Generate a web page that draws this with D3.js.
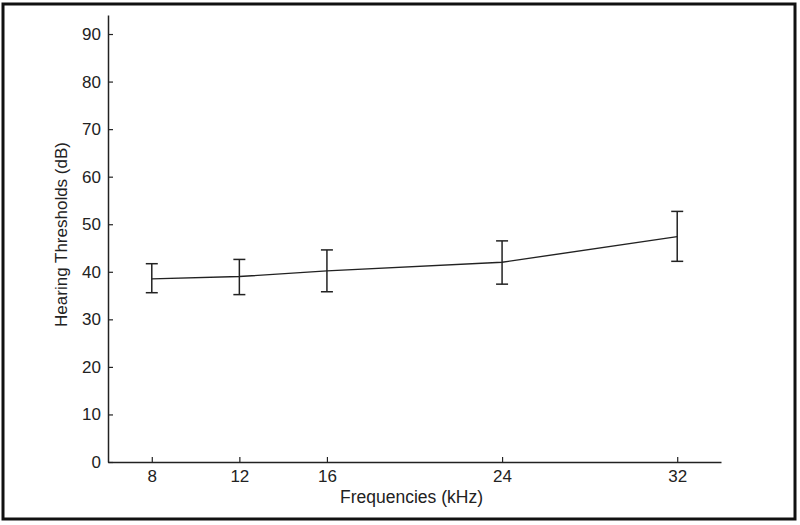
<!DOCTYPE html>
<html><head><meta charset="utf-8">
<script src="https://cdn.jsdelivr.net/npm/d3@7"></script>
<style>body{margin:0;background:#fff}svg{display:block}</style>
</head><body>
<script>
const freqs = [8, 12, 16, 24, 32];
const means = [38.5, 39.0, 40.2, 42.0, 47.4];
const upper = [41.7, 42.6, 44.6, 46.5, 52.7];
const lower = [35.6, 35.2, 35.8, 37.4, 42.2];
const yTicks = [0,10,20,30,40,50,60,70,80,90];
const xTicks = [8,12,16,24,32];

const W=800,H=525;
const svg=d3.select("body").append("svg").attr("width",W).attr("height",H);
svg.append("rect").attr("x",3).attr("y",4).attr("width",792).attr("height",515)
  .attr("fill","none").attr("stroke","#111").attr("stroke-width",3);

const x=d3.scaleLinear().domain([6,34]).range([108,721]);
const y=d3.scaleLinear().domain([0,94]).range([462,15]);
const font="'Liberation Sans', Arial, sans-serif";
const col="#222";

const gx=svg.append("g").attr("transform","translate(0,462)")
  .call(d3.axisBottom(x).tickValues(xTicks).tickSize(-5).tickPadding(8).tickSizeOuter(0));
const gy=svg.append("g").attr("transform","translate(108,0)")
  .call(d3.axisLeft(y).tickValues(yTicks).tickSize(-5).tickPadding(7).tickSizeOuter(0));
[gx,gy].forEach(g=>{
  g.select(".domain").attr("stroke",col).attr("stroke-width",1.5);
  g.selectAll(".tick line").attr("stroke",col).attr("stroke-width",1.2);
  g.selectAll("text").attr("font-family",font).attr("font-size",17).attr("fill","#222");
});

const line=d3.line().x((d,i)=>x(freqs[i])).y(d=>y(d));
svg.append("path").datum(means).attr("d",line).attr("fill","none")
  .attr("stroke",col).attr("stroke-width",1.4);

const eb=svg.append("g").attr("stroke",col).attr("stroke-width",1.5);
freqs.forEach((f,i)=>{
  const cx=x(f);
  eb.append("line").attr("x1",cx).attr("x2",cx).attr("y1",y(upper[i])).attr("y2",y(lower[i]));
  eb.append("line").attr("x1",cx-6).attr("x2",cx+6).attr("y1",y(upper[i])).attr("y2",y(upper[i]));
  eb.append("line").attr("x1",cx-6).attr("x2",cx+6).attr("y1",y(lower[i])).attr("y2",y(lower[i]));
});

svg.append("text").attr("x",411.5).attr("y",503).attr("text-anchor","middle")
  .attr("font-family",font).attr("font-size",17.5).attr("fill","#222").text("Frequencies (kHz)");
svg.append("text").attr("transform","translate(67,234.5) rotate(-90)").attr("text-anchor","middle")
  .attr("font-family",font).attr("font-size",17).attr("fill","#222").text("Hearing Thresholds (dB)");
</script>
</body></html>
